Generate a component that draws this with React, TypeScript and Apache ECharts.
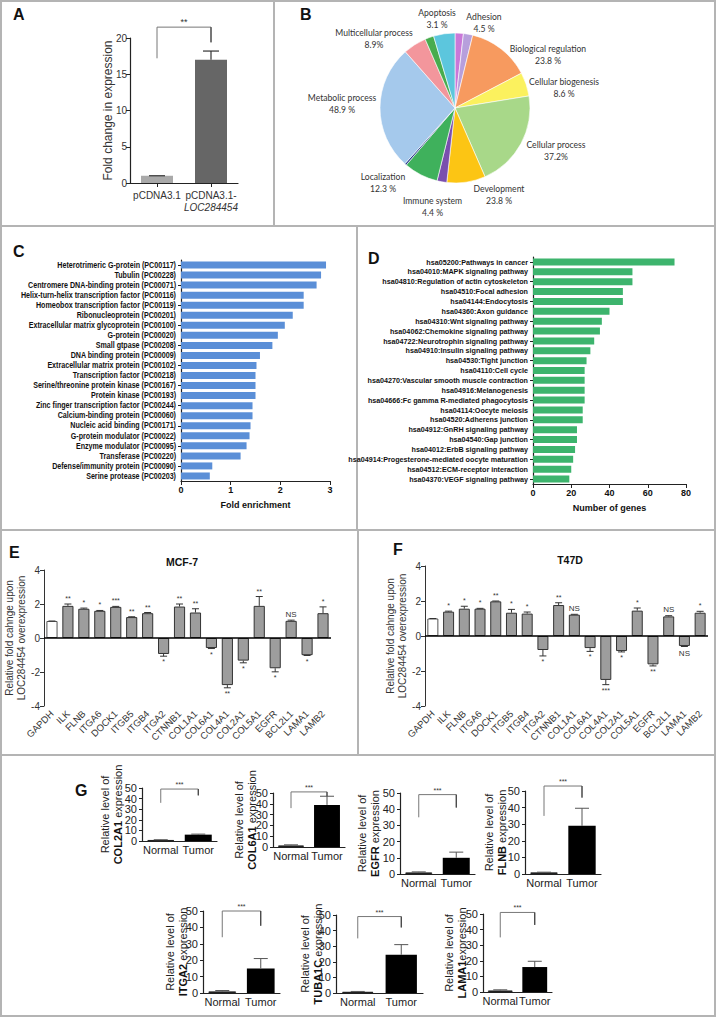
import React, { useEffect, useRef } from "react";
import * as echarts from "echarts";

// ---------------- data ----------------
const aCategories = ["pCDNA3.1", "pCDNA3.1-LOC284454"];
const aValues = [1, 17];
const aErrTop = [1, 18.2];
const aBracket = [17.2, 19.4, 21.5]; // left end, right end, top
const aSig = "**";

const pieNames = [
  "Adhesion", "Adhesion (other)", "Biological regulation", "Cellular biogenesis",
  "Cellular process", "Development", "Immune system", "Localization", "Other",
  "Metabolic process", "Multicellular process", "Multicellular (other)", "Apoptosis",
];
const pieValues = [1.8, 2.0, 13.5, 5.1, 21.0, 8.3, 2.1, 7.4, 0.4, 26.8, 5.0, 1.9, 4.6];
const pieColors = [
  "#c978d8", "#b79fdc", "#f79a5f", "#fbf15e", "#a8d889", "#fcc514", "#7a4fae",
  "#3fb15c", "#243c8c", "#a5c9ec", "#f3969c", "#48ac4e", "#5cc6dd",
];
const pieLabelTexts = [
  "Apoptosis\n3.1 %", "Adhesion\n4.5 %", "Multicellular process\n8.9%",
  "Biological regulation\n23.8 %", "Cellular biogenesis\n8.6 %", "Metabolic process\n48.9 %",
  "Cellular process\n37.2%", "Localization\n12.3 %", "Development\n23.8 %", "Immune system\n4.4 %",
];

const cCategories = [
  "Heterotrimeric G-protein (PC00117)", "Tubulin (PC00228)", "Centromere DNA-binding protein (PC00071)",
  "Helix-turn-helix transcription factor (PC00116)", "Homeobox transcription factor (PC00119)",
  "Ribonucleoprotein (PC00201)", "Extracellular matrix glycoprotein (PC00100)", "G-protein (PC00020)",
  "Small gtpase (PC00208)", "DNA binding protein (PC00009)", "Extracellular matrix protein (PC00102)",
  "Transcription factor (PC00218)", "Serine/threonine protein kinase (PC00167)", "Protein kinase (PC00193)",
  "Zinc finger transcription factor (PC00244)", "Calcium-binding protein (PC00060)",
  "Nucleic acid binding (PC00171)", "G-protein modulator (PC00022)", "Enzyme modulator (PC00095)",
  "Transferase (PC00220)", "Defense/immunity protein (PC00090)", "Serine protease (PC00203)",
];
const cValues = [2.92, 2.82, 2.73, 2.47, 2.47, 2.25, 2.09, 1.95, 1.84, 1.59, 1.52, 1.5, 1.5, 1.5, 1.44, 1.44, 1.4, 1.38, 1.32, 1.2, 0.63, 0.58];

const dCategories = [
  "hsa05200:Pathways in cancer", "hsa04010:MAPK signaling pathway", "hsa04810:Regulation of actin cytoskeleton",
  "hsa04510:Focal adhesion", "hsa04144:Endocytosis", "hsa04360:Axon guidance", "hsa04310:Wnt signaling pathway",
  "hsa04062:Chemokine signaling pathway", "hsa04722:Neurotrophin signaling pathway",
  "hsa04910:Insulin signaling pathway", "hsa04530:Tight junction", "hsa04110:Cell cycle",
  "hsa04270:Vascular smooth muscle contraction", "hsa04916:Melanogenesis",
  "hsa04666:Fc gamma R-mediated phagocytosis", "hsa04114:Oocyte meiosis", "hsa04520:Adherens junction",
  "hsa04912:GnRH signaling pathway", "hsa04540:Gap junction", "hsa04012:ErbB signaling pathway",
  "hsa04914:Progesterone-mediated oocyte maturation", "hsa04512:ECM-receptor interaction",
  "hsa04370:VEGF signaling pathway",
];
const dValues = [74, 52, 52, 47, 47, 40, 36, 35, 32, 30, 28, 27, 27, 27, 27, 26, 26, 23, 23, 22, 21, 20, 19];

const genes = ["GAPDH", "ILK", "FLNB", "ITGA6", "DOCK1", "ITGB5", "ITGB4", "ITGA2", "CTNNB1", "COL1A1", "COL6A1", "COL4A1", "COL2A1", "COL5A1", "EGFR", "BCL2L1", "LAMA1", "LAMB2"];
const eValues = [1.0, 1.89, 1.72, 1.6, 1.83, 1.23, 1.46, -0.94, 1.85, 1.5, -0.59, -2.77, -1.33, 1.89, -1.78, 1.01, -1.01, 1.46];
const eErrEnds = [1.0, 2.0, 1.76, 1.62, 1.86, 1.25, 1.5, -1.07, 2.0, 1.72, -0.62, -2.93, -1.46, 2.44, -1.99, 1.05, -1.03, 1.83];
const eSig = ["", "**", "*", "*", "***", "**", "**", "*", "**", "**", "*", "**", "*", "**", "*", "NS", "*", "*"];
const fValues = [1.0, 1.39, 1.56, 1.56, 1.98, 1.33, 1.28, -0.8, 1.77, 1.22, -0.69, -2.51, -0.86, 1.45, -1.62, 1.12, -0.57, 1.33];
const fErrEnds = [1.0, 1.42, 1.7, 1.58, 2.0, 1.52, 1.37, -1.14, 1.9, 1.24, -0.88, -2.78, -0.91, 1.6, -1.71, 1.16, -0.6, 1.41];
const fSig = ["", "*", "*", "*", "**", "*", "*", "*", "**", "NS", "*", "***", "*", "*", "**", "NS", "NS", "*"];

const gGenes = ["COL2A1", "COL6A1", "EGFR", "FLNB", "ITGA2", "TUBA1C", "LAMA1"];
const gSep = [" ", " ", " ", " ", " ", " ", ""];
const gCategories = ["Normal", "Tumor"];
const gTickLabels = [0, 10, 20, 30, 40, 50];
const gNormal = [1, 1.5, 1, 1, 1, 0.8, 1];
const gNormalErr = [1.2, 2, 1.3, 1.1, 1.5, 1, 1.4];
const gTumor = [6, 39, 10, 29, 15, 24.5, 16];
const gTumorErr = [6.5, 47, 13.5, 39.6, 21, 31, 19.7];
const gBracketLeft = [36, 36, 35, 35, 34, 35, 35];
const gBracketRight = [43, 47, 41, 46, 41, 42, 43];
const gBracketTop = [49, 51, 49, 53, 50, 49, 51];
const gSig = "***";

// ---------------- layout ----------------
const SANS = "'Liberation Sans', Arial, sans-serif";
const PIE_FONT = "Lato, 'Liberation Sans', sans-serif";
const pieLabelPos = [
  [437, 18.5], [484, 22.7], [374, 38.3], [548, 54.3], [564, 87.5],
  [342, 103], [556, 150.5], [383, 182], [499, 194.7], [432.5, 206],
];
const gGrids = [
  { left: 142, top: 788, width: 75, height: 53 },
  { left: 273, top: 793, width: 72, height: 54 },
  { left: 400, top: 793, width: 75, height: 81 },
  { left: 525, top: 791, width: 76, height: 83 },
  { left: 203, top: 911, width: 77, height: 82 },
  { left: 336, top: 915, width: 87, height: 78 },
  { left: 483, top: 914, width: 69, height: 78 },
];
const gNameGaps = [18, 15, 19, 17, 14, 12, 15];

function txtStyle(extra: any) {
  return Object.assign({}, extra, {
    align: extra.textAlign,
    verticalAlign: extra.textVerticalAlign,
  });
}

function errorSeries(ax: number, data: number[][], capW: number, color: string, lw: number) {
  return {
    type: "custom",
    xAxisIndex: ax,
    yAxisIndex: ax,
    clip: false,
    z: 5,
    silent: true,
    data,
    renderItem: (p: any, api: any) => {
      const base = api.coord([api.value(0), api.value(1)]);
      const end = api.coord([api.value(0), api.value(2)]);
      return {
        type: "group",
        children: [
          { type: "line", shape: { x1: base[0], y1: base[1], x2: end[0], y2: end[1] }, style: { stroke: color, lineWidth: lw } },
          { type: "line", shape: { x1: end[0] - capW / 2, y1: end[1], x2: end[0] + capW / 2, y2: end[1] }, style: { stroke: color, lineWidth: lw } },
        ],
      };
    },
  };
}

function bracketSeries(ax: number, lb: number, rb: number, top: number, sig: string, fs: number) {
  return {
    type: "custom",
    xAxisIndex: ax,
    yAxisIndex: ax,
    clip: false,
    z: 6,
    silent: true,
    data: [[0, lb, rb, top]],
    renderItem: (p: any, api: any) => {
      const l0 = api.coord([0, api.value(1)]);
      const r0 = api.coord([1, api.value(2)]);
      const lt = api.coord([0, api.value(3)]);
      const rt = api.coord([1, api.value(3)]);
      return {
        type: "group",
        children: [
          { type: "polyline", shape: { points: [l0, lt, rt, r0] }, style: { stroke: "#777", lineWidth: 1, fill: null } },
          { type: "line", shape: { x1: r0[0], y1: r0[1], x2: rt[0], y2: rt[1] }, style: { stroke: "#333", lineWidth: 1 } },
          {
            type: "text",
            x: (lt[0] + rt[0]) / 2,
            y: lt[1] - 1,
            style: txtStyle({ text: sig, fill: "#333", fontSize: fs, fontFamily: SANS, textAlign: "center", textVerticalAlign: "bottom" }),
          },
        ],
      };
    },
  };
}

function sigSeries(ax: number, vals: number[], ends: number[], sig: string[]) {
  return {
    type: "custom",
    xAxisIndex: ax,
    yAxisIndex: ax,
    clip: false,
    z: 6,
    silent: true,
    data: vals.map((v, i) => [i, ends[i], v]),
    renderItem: (p: any, api: any) => {
      const t = sig[p.dataIndex];
      if (!t) return { type: "group", children: [] };
      const pt = api.coord([api.value(0), api.value(1)]);
      const up = api.value(2) >= 0;
      const ns = t === "NS";
      return {
        type: "text",
        x: pt[0],
        y: up ? pt[1] - 2 : pt[1] + (ns ? 3 : 2),
        style: txtStyle({
          text: t, fill: "#333", fontSize: ns ? 8 : 7, fontFamily: SANS,
          textAlign: "center", textVerticalAlign: up ? "bottom" : "top",
        }),
      };
    },
  };
}

// condensed category labels drawn at the category axis positions
function catLabelSeries(ax: number, cats: string[], fs: number, sx: number) {
  return {
    type: "custom",
    xAxisIndex: ax,
    yAxisIndex: ax,
    clip: false,
    z: 4,
    silent: true,
    data: cats.map((c, i) => [0, i]),
    renderItem: (p: any, api: any) => {
      const pt = api.coord([0, p.dataIndex]);
      return {
        type: "text",
        x: pt[0] - 5,
        y: pt[1],
        scaleX: sx,
        style: txtStyle({
          text: cats[p.dataIndex], fill: "#111", fontSize: fs, fontWeight: "bold", fontFamily: SANS,
          textAlign: "right", textVerticalAlign: "middle",
        }),
      };
    },
  };
}

// value tick labels for the small G charts, placed through the value scale
function yTickLabelSeries(ax: number, ticks: number[]) {
  return {
    type: "custom",
    xAxisIndex: ax,
    yAxisIndex: ax,
    clip: false,
    z: 4,
    silent: true,
    data: ticks.map((t) => [0, t]),
    renderItem: (p: any, api: any) => {
      const pt = api.coord([0, api.value(1)]);
      const band = api.size([1, 0])[0];
      return {
        type: "text",
        x: pt[0] - band / 2 - 5,
        y: pt[1],
        style: txtStyle({
          text: String(ticks[p.dataIndex]), fill: "#222", fontSize: 11, fontFamily: SANS,
          textAlign: "right", textVerticalAlign: "middle",
        }),
      };
    },
  };
}

function buildOption() {
  const grid: any[] = [];
  const xAxis: any[] = [];
  const yAxis: any[] = [];
  const series: any[] = [];
  const axisBlack = { show: true, lineStyle: { color: "#222", width: 1.2 } };

  // ---- A (index 0)
  grid.push({ left: 130, top: 38, width: 108, height: 145, outerBoundsMode: "none" });
  xAxis.push({
    gridIndex: 0, type: "category", data: aCategories,
    axisLine: axisBlack,
    axisTick: { show: true, alignWithLabel: true, length: 4, lineStyle: { color: "#222" } },
    axisLabel: {
      color: "#333", fontSize: 10, fontFamily: SANS, margin: 6, interval: 0, lineHeight: 12,
      formatter: (v: string) => {
        const k = v.indexOf("-");
        return k > 0 ? v.slice(0, k + 1) + "\n{i|" + v.slice(k + 1) + "}" : v;
      },
      rich: { i: { fontStyle: "italic", fontSize: 10, color: "#333", fontFamily: SANS, lineHeight: 12 } },
    },
  });
  yAxis.push({
    gridIndex: 0, type: "value", min: 0, max: 20, interval: 5,
    axisLine: axisBlack, axisTick: { show: true, length: 4, lineStyle: { color: "#222" } },
    splitLine: { show: false },
    axisLabel: { fontSize: 10, color: "#333", margin: 3, fontFamily: SANS, showMaxLabel: true, showMinLabel: true },
    name: "Fold change in expression", nameLocation: "middle", nameGap: 16, nameMoveOverlap: false,
    nameTextStyle: { fontSize: 12, color: "#333", fontFamily: SANS },
  });
  series.push({
    type: "bar", xAxisIndex: 0, yAxisIndex: 0, barWidth: 32,
    data: aValues.map((v, i) => ({ value: v, itemStyle: { color: i === 0 ? "#a9a9a9" : "#666666" } })),
  });
  series.push(errorSeries(0, aValues.map((v, i) => [i, v, aErrTop[i]]), 16, "#333", 1.2));
  series.push(bracketSeries(0, aBracket[0], aBracket[1], aBracket[2], aSig, 9));

  // ---- C (index 1)
  grid.push({ left: 181, top: 260, width: 149, height: 221, outerBoundsMode: "none" });
  xAxis.push({
    gridIndex: 1, type: "value", min: 0, max: 3, interval: 1,
    axisLine: axisBlack, axisTick: { show: true, length: 4, lineStyle: { color: "#222" } },
    splitLine: { show: false },
    axisLabel: { fontSize: 9, fontWeight: "bold", color: "#111", fontFamily: SANS, margin: 4 },
    name: "Fold enrichment", nameLocation: "middle", nameGap: 19,
    nameTextStyle: { fontSize: 9, fontWeight: "bold", color: "#111", fontFamily: SANS },
  });
  yAxis.push({
    gridIndex: 1, type: "category", data: cCategories, inverse: true,
    axisLine: axisBlack,
    axisTick: { show: true, alignWithLabel: true, length: 3, lineStyle: { color: "#222" } },
    axisLabel: { show: false },
  });
  series.push({ type: "bar", xAxisIndex: 1, yAxisIndex: 1, barWidth: 7, data: cValues, itemStyle: { color: "#5b8fd7" } });
  series.push(catLabelSeries(1, cCategories, 8.5, 0.84));

  // ---- D (index 2)
  grid.push({ left: 533, top: 257, width: 153, height: 227, outerBoundsMode: "none" });
  xAxis.push({
    gridIndex: 2, type: "value", min: 0, max: 80, interval: 20,
    axisLine: axisBlack, axisTick: { show: true, length: 4, lineStyle: { color: "#222" } },
    splitLine: { show: false },
    axisLabel: { fontSize: 9, fontWeight: "bold", color: "#111", fontFamily: SANS, margin: 4 },
    name: "Number of genes", nameLocation: "middle", nameGap: 19,
    nameTextStyle: { fontSize: 9, fontWeight: "bold", color: "#111", fontFamily: SANS },
  });
  yAxis.push({
    gridIndex: 2, type: "category", data: dCategories, inverse: true,
    axisLine: axisBlack,
    axisTick: { show: true, alignWithLabel: true, length: 3, lineStyle: { color: "#222" } },
    axisLabel: { show: false },
  });
  series.push({ type: "bar", xAxisIndex: 2, yAxisIndex: 2, barWidth: 7, data: dValues, itemStyle: { color: "#3db46d" } });
  series.push(catLabelSeries(2, dCategories, 8, 0.9));

  // ---- E (3) and F (4)
  const ef = [
    { idx: 3, g: { left: 44, top: 570, width: 287, height: 136 }, vals: eValues, ends: eErrEnds, sig: eSig },
    { idx: 4, g: { left: 425, top: 566, width: 283, height: 140 }, vals: fValues, ends: fErrEnds, sig: fSig },
  ];
  ef.forEach((p) => {
    grid.push(Object.assign({ outerBoundsMode: "none" }, p.g));
    xAxis.push({
      gridIndex: p.idx, type: "category", data: genes,
      axisLine: { show: false, onZero: false }, axisTick: { show: false },
      axisLabel: { rotate: 45, interval: 0, fontSize: 9.5, color: "#333", fontFamily: SANS, margin: 6 },
    });
    yAxis.push({
      gridIndex: p.idx, type: "value", min: -4, max: 4, interval: 2,
      axisLine: { show: true, lineStyle: { color: "#333", width: 1 } },
      axisTick: { show: true, length: 4, lineStyle: { color: "#333" } },
      splitLine: { show: false },
      axisLabel: { fontSize: 10, color: "#333", margin: 4, fontFamily: SANS, showMaxLabel: true, showMinLabel: true },
      name: "Relative fold cahnge upon\nLOC284454 overexpression", nameLocation: "middle", nameGap: 16,
      nameTextStyle: { fontSize: 10, lineHeight: 12, color: "#333", fontFamily: SANS },
    });
    series.push({
      type: "bar", xAxisIndex: p.idx, yAxisIndex: p.idx, barWidth: "70%",
      data: p.vals.map((v, i) => ({
        value: v,
        itemStyle: i === 0
          ? { color: "#ffffff", borderColor: "#555", borderWidth: 1 }
          : { color: "#9d9d9d", borderColor: "#333", borderWidth: 1 },
      })),
      markLine: {
        silent: true, symbol: ["none", "none"], label: { show: false },
        lineStyle: { color: "#000", width: 1.5, type: "solid" },
        data: [{ yAxis: 0 }],
      },
    });
    series.push(errorSeries(p.idx, p.vals.map((v, i) => [i, v, p.ends[i]]), 7, "#333", 1));
    series.push(sigSeries(p.idx, p.vals, p.ends, p.sig));
  });

  // ---- G (5..11)
  gGenes.forEach((gene, k) => {
    const idx = 5 + k;
    grid.push(Object.assign({ outerBoundsMode: "none" }, gGrids[k]));
    xAxis.push({
      gridIndex: idx, type: "category", data: gCategories,
      axisLine: axisBlack, axisTick: { show: false },
      axisLabel: { fontSize: 11, color: "#222", margin: 3, interval: 0, fontFamily: SANS },
    });
    yAxis.push({
      gridIndex: idx, type: "value", min: 0, max: 50, interval: 10,
      axisLine: axisBlack, axisTick: { show: true, length: 3, lineStyle: { color: "#222" } },
      splitLine: { show: false },
      axisLabel: { show: false },
      name: "{n|Relative level of}\n{b|" + gene + "}{n|" + gSep[k] + "expression}",
      nameLocation: "middle", nameGap: gNameGaps[k], nameMoveOverlap: false,
      nameTextStyle: {
        fontSize: 11, color: "#222", lineHeight: 13, fontFamily: SANS,
        rich: {
          n: { fontSize: 11, color: "#222", lineHeight: 13, fontFamily: SANS },
          b: { fontSize: 11, color: "#111", fontWeight: "bold", lineHeight: 13, fontFamily: SANS },
        },
      },
    });
    series.push({
      type: "bar", xAxisIndex: idx, yAxisIndex: idx, barWidth: "72%",
      data: [
        { value: gNormal[k], itemStyle: { color: "#ffffff", borderColor: "#222", borderWidth: 1 } },
        { value: gTumor[k], itemStyle: { color: "#000000" } },
      ],
    });
    series.push(errorSeries(idx, [[0, gNormal[k], gNormalErr[k]], [1, gTumor[k], gTumorErr[k]]], 14, "#555", 1));
    series.push(bracketSeries(idx, gBracketLeft[k], gBracketRight[k], gBracketTop[k], gSig, 7));
    series.push(yTickLabelSeries(idx, gTickLabels));
  });

  // ---- B pie
  series.push({
    type: "pie", center: [455, 108], radius: 75, startAngle: 90, clockwise: true,
    label: { show: false }, labelLine: { show: false }, silent: true,
    itemStyle: { borderColor: "#ffffff", borderWidth: 0.6 },
    data: pieValues.map((v, i) => ({ name: pieNames[i], value: v, itemStyle: { color: pieColors[i] } })),
  });

  // ---- graphic: frame, panel letters, pie labels, titles
  const frame = "#b4b4b4";
  const graphic: any[] = [
    { type: "rect", shape: { x: 1, y: 1, width: 714, height: 1015 }, style: { fill: null, stroke: frame, lineWidth: 2 } },
    { type: "line", shape: { x1: 0, y1: 226, x2: 716, y2: 226 }, style: { stroke: frame, lineWidth: 2 } },
    { type: "line", shape: { x1: 0, y1: 530, x2: 716, y2: 530 }, style: { stroke: frame, lineWidth: 2 } },
    { type: "line", shape: { x1: 0, y1: 755, x2: 716, y2: 755 }, style: { stroke: frame, lineWidth: 2 } },
    { type: "line", shape: { x1: 274, y1: 0, x2: 274, y2: 226 }, style: { stroke: frame, lineWidth: 2 } },
    { type: "line", shape: { x1: 357, y1: 226, x2: 357, y2: 530 }, style: { stroke: frame, lineWidth: 2 } },
    { type: "line", shape: { x1: 358, y1: 530, x2: 358, y2: 755 }, style: { stroke: frame, lineWidth: 2 } },
  ];
  const letters: [string, number, number][] = [
    ["A", 13, 6], ["B", 300, 6], ["C", 13, 243], ["D", 368, 250],
    ["E", 9, 544], ["F", 393, 541], ["G", 75, 782],
  ];
  letters.forEach(([t, x, y]) => {
    graphic.push({
      type: "text", x, y,
      style: txtStyle({ text: t, fill: "#111", fontSize: 16, fontWeight: "bold", fontFamily: SANS, textAlign: "left", textVerticalAlign: "top" }),
    });
  });
  pieLabelTexts.forEach((t, i) => {
    graphic.push({
      type: "text", x: pieLabelPos[i][0], y: pieLabelPos[i][1], scaleX: 0.86,
      style: txtStyle({ text: t, fill: "#333", fontSize: 10, lineHeight: 12, fontFamily: PIE_FONT, textAlign: "center", textVerticalAlign: "middle" }),
    });
  });
  graphic.push({
    type: "text", x: 182, y: 562,
    style: txtStyle({ text: "MCF-7", fill: "#111", fontSize: 10.5, fontWeight: "bold", fontFamily: SANS, textAlign: "center", textVerticalAlign: "middle" }),
  });
  graphic.push({
    type: "text", x: 570, y: 560,
    style: txtStyle({ text: "T47D", fill: "#111", fontSize: 10.5, fontWeight: "bold", fontFamily: SANS, textAlign: "center", textVerticalAlign: "middle" }),
  });

  return {
    animation: false,
    backgroundColor: "#ffffff",
    textStyle: { fontFamily: SANS },
    grid, xAxis, yAxis, series, graphic,
  };
}

export default function App() {
  const ref = useRef<HTMLDivElement>(null);
  useEffect(() => {
    if (!ref.current) return;
    const chart = echarts.init(ref.current, undefined, { renderer: "svg" });
    chart.setOption(buildOption() as any);
    return () => chart.dispose();
  }, []);
  return (
    <div
      ref={ref}
      style={{ position: "absolute", left: 0, top: 0, width: 717, height: 1018, background: "#fff" }}
    />
  );
}
